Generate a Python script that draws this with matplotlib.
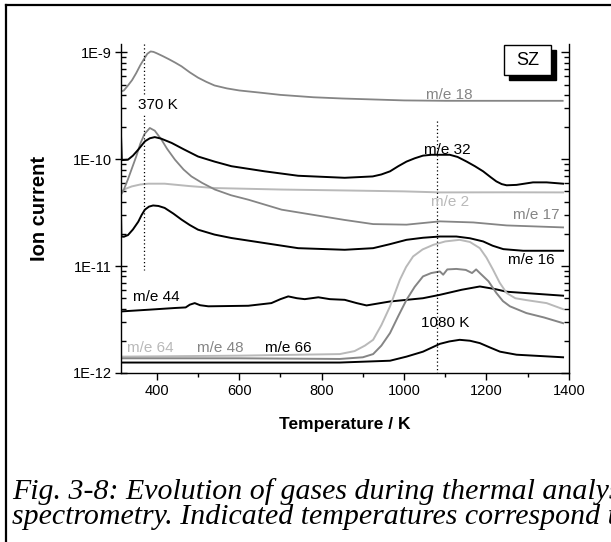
import matplotlib
matplotlib.use("Agg")
import matplotlib.pyplot as plt
import matplotlib.markers as mmarkers
from matplotlib.lines import Line2D
from matplotlib.patches import Rectangle

# ---- data (T in K, ion current in A) ----
t18 = [313, 320, 330, 340, 350, 360, 370, 377, 385, 392, 400, 415, 430, 445, 460, 480, 500, 520,
       540, 570, 600, 650, 700, 780, 850, 1000, 1100, 1385]
i18 = [4.3e-10, 4.4e-10, 4.9e-10, 5.5e-10, 6.4e-10, 7.6e-10, 8.8e-10, 9.7e-10, 1.02e-9, 1.01e-9,
       0.98e-9, 0.92e-9, 0.86e-9, 0.80e-9, 7.4e-10, 6.5e-10, 5.8e-10, 5.3e-10, 4.9e-10, 4.6e-10,
       4.4e-10, 4.2e-10, 4.0e-10, 3.8e-10, 3.7e-10, 3.55e-10, 3.52e-10, 3.52e-10]

t32 = [313, 315, 330, 342, 355, 371, 383, 395, 410, 436, 465, 500, 540, 581, 662, 743, 856, 924,
       945, 966, 986, 1006, 1026, 1046, 1066, 1087, 1111, 1130, 1152, 1172, 1192, 1210, 1224, 1237,
       1249, 1273, 1313, 1346, 1386]
i32 = [1.7e-10, 9.8e-11, 9.9e-11, 1.08e-10, 1.23e-10, 1.47e-10, 1.57e-10, 1.61e-10, 1.56e-10,
       1.42e-10, 1.24e-10, 1.06e-10, 9.5e-11, 8.6e-11, 7.7e-11, 7.0e-11, 6.7e-11, 6.9e-11, 7.2e-11,
       7.7e-11, 8.6e-11, 9.5e-11, 1.02e-10, 1.08e-10, 1.10e-10, 1.10e-10, 1.10e-10, 1.05e-10,
       9.5e-11, 8.6e-11, 7.7e-11, 6.8e-11, 6.2e-11, 5.85e-11, 5.7e-11, 5.75e-11, 6.07e-11,
       6.07e-11, 5.9e-11]

t17 = [313, 320, 330, 340, 350, 360, 370, 383, 395, 411, 425, 444, 465, 484, 510, 541, 580, 622,
       703, 783, 856, 925, 1006, 1087, 1168, 1249, 1386]
i17 = [4.65e-11, 5.2e-11, 6.5e-11, 8.3e-11, 1.06e-10, 1.40e-10, 1.72e-10, 1.96e-10, 1.85e-10,
       1.53e-10, 1.25e-10, 9.9e-11, 8.0e-11, 6.9e-11, 6.0e-11, 5.2e-11, 4.6e-11, 4.18e-11, 3.37e-11,
       3.0e-11, 2.7e-11, 2.47e-11, 2.44e-11, 2.62e-11, 2.56e-11, 2.4e-11, 2.3e-11]

t2 = [313, 325, 339, 360, 379, 419, 480, 541, 703, 856, 1000, 1087, 1250, 1386]
i2 = [5.0e-11, 5.3e-11, 5.56e-11, 5.8e-11, 5.9e-11, 5.9e-11, 5.6e-11, 5.37e-11, 5.2e-11, 5.1e-11,
      5.0e-11, 4.89e-11, 4.9e-11, 4.89e-11]

t16 = [313, 314, 320, 330, 342, 355, 363, 371, 381, 391, 404, 419, 440, 460, 480, 500, 540, 581,
       662, 743, 856, 925, 965, 1006, 1046, 1087, 1127, 1160, 1192, 1215, 1241, 1289, 1386]
i16 = [3.1e-11, 1.89e-11, 1.88e-11, 1.95e-11, 2.2e-11, 2.6e-11, 3.0e-11, 3.37e-11, 3.6e-11,
       3.69e-11, 3.65e-11, 3.5e-11, 3.1e-11, 2.72e-11, 2.42e-11, 2.19e-11, 1.97e-11, 1.83e-11,
       1.64e-11, 1.47e-11, 1.42e-11, 1.47e-11, 1.6e-11, 1.76e-11, 1.84e-11, 1.89e-11, 1.89e-11,
       1.82e-11, 1.7e-11, 1.55e-11, 1.44e-11, 1.39e-11, 1.39e-11]

t44 = [313, 379, 444, 470, 480, 492, 505, 525, 622, 678, 700, 719, 740, 759, 792, 820, 856, 885,
       909, 966, 1046, 1087, 1140, 1184, 1220, 1249, 1386]
i44 = [3.76e-12, 3.9e-12, 4.05e-12, 4.1e-12, 4.35e-12, 4.5e-12, 4.3e-12, 4.2e-12, 4.25e-12,
       4.5e-12, 4.9e-12, 5.2e-12, 5.0e-12, 4.9e-12, 5.1e-12, 4.9e-12, 4.83e-12, 4.5e-12, 4.28e-12,
       4.66e-12, 5.0e-12, 5.38e-12, 6.0e-12, 6.44e-12, 6.1e-12, 5.75e-12, 5.28e-12]

t64 = [313, 600, 844, 880, 905, 925, 945, 966, 978, 990, 1005, 1022, 1045, 1071, 1100, 1135, 1160,
       1184, 1200, 1216, 1232, 1249, 1270, 1297, 1346, 1386]
i64 = [1.42e-12, 1.45e-12, 1.5e-12, 1.6e-12, 1.8e-12, 2.04e-12, 2.8e-12, 4.19e-12, 5.6e-12,
       7.45e-12, 9.8e-12, 1.23e-11, 1.43e-11, 1.58e-11, 1.7e-11, 1.76e-11, 1.68e-11, 1.47e-11,
       1.2e-11, 9.25e-12, 7.0e-12, 5.59e-12, 5.0e-12, 4.8e-12, 4.5e-12, 3.95e-12]

t48 = [313, 600, 844, 900, 925, 945, 966, 986, 1006, 1026, 1046, 1066, 1087, 1095, 1105, 1127,
       1150, 1165, 1175, 1184, 1205, 1224, 1240, 1257, 1297, 1340, 1386]
i48 = [1.37e-12, 1.37e-12, 1.35e-12, 1.4e-12, 1.5e-12, 1.8e-12, 2.36e-12, 3.4e-12, 4.83e-12,
       6.4e-12, 8.0e-12, 8.6e-12, 8.9e-12, 8.3e-12, 9.3e-12, 9.4e-12, 9.2e-12, 8.6e-12, 9.3e-12,
       8.6e-12, 7.2e-12, 5.6e-12, 4.7e-12, 4.2e-12, 3.63e-12, 3.3e-12, 2.92e-12]

t66 = [313, 600, 844, 966, 1006, 1046, 1087, 1110, 1135, 1160, 1184, 1210, 1233, 1273, 1386]
i66 = [1.25e-12, 1.25e-12, 1.25e-12, 1.3e-12, 1.42e-12, 1.58e-12, 1.87e-12, 1.97e-12, 2.04e-12,
       2.0e-12, 1.9e-12, 1.72e-12, 1.58e-12, 1.48e-12, 1.4e-12]

# peak temperatures marked by dotted lines
peak_t = [370, 1080]

GRAY = "#858585"
LIGHT = "#b9b9b9"

plt.rcParams["font.family"] = ["Liberation Sans", "DejaVu Sans"]

fig = plt.figure(figsize=(6.11, 5.42), dpi=100)
ax = fig.add_axes([0.198, 0.312, 0.733, 0.607])

ax.plot(t18, i18, color=GRAY, lw=1.3)
ax.plot(t2, i2, color=LIGHT, lw=1.4)
ax.plot(t17, i17, color=GRAY, lw=1.3)
ax.plot(t32, i32, color="black", lw=1.4)
ax.plot(t16, i16, color="black", lw=1.4)
ax.plot(t44, i44, color="black", lw=1.4)
ax.plot(t64, i64, color=LIGHT, lw=1.4)
ax.plot(t48, i48, color=GRAY, lw=1.4)
ax.plot(t66, i66, color="black", lw=1.4)

ax.plot([peak_t[0], peak_t[0]], [1.2e-9, 9.2e-12], color="black", lw=0.9, ls=(0, (1, 2)))
ax.plot([peak_t[1], peak_t[1]], [2.26e-10, 1e-12], color="black", lw=0.9, ls=(0, (1, 2)))

ax.set_yscale("log")
ax.set_xlim(313, 1400)
ax.set_ylim(1e-12, 1.2e-9)
ax.set_xticks([400, 600, 800, 1000, 1200, 1400])
ax.set_xticks(range(500, 1400, 200), minor=True)
ax.set_yticks([1e-12, 1e-11, 1e-10, 1e-9])
ax.set_yticklabels(["1E-12", "1E-11", "1E-10", "1E-9"])

ax.spines["top"].set_visible(False)
for s in ["left", "right", "bottom"]:
    ax.spines[s].set_linewidth(1.0)
ax.tick_params(axis="x", which="major", direction="out", length=5, width=1, labelsize=10.5, pad=3)
ax.tick_params(axis="x", which="minor", direction="out", length=3, width=1)
ax.tick_params(axis="y", which="major", direction="inout", length=9, width=1, labelsize=10.5,
               right=True, pad=2)
ax.tick_params(axis="y", which="minor", direction="in", length=3.5, width=1, right=True)
# right side ticks point inwards
for t in ax.yaxis.get_major_ticks():
    t.tick2line.set_marker(mmarkers.TICKLEFT)
    t.tick2line.set_markersize(6)

ax.set_xlabel("Temperature / K", fontsize=12.5, fontweight="bold", labelpad=14)
fig.text(0.064, 0.6155, "Ion current", rotation=90, fontsize=14.5, fontweight="bold",
         ha="center", va="center")

# curve labels
txt = dict(fontsize=11, ha="center", va="center")
ax.text(1111, 4.0e-10, "m/e 18", color=GRAY, **txt)
ax.text(1106, 1.23e-10, "m/e 32", color="black", **txt)
ax.text(1111, 3.98e-11, "m/e 2", color=LIGHT, **txt)
ax.text(1322, 3.02e-11, "m/e 17", color=GRAY, **txt)
ax.text(1309, 1.13e-11, "m/e 16", color="black", **txt)
ax.text(399, 5.08e-12, "m/e 44", color="black", **txt)
ax.text(383, 1.71e-12, "m/e 64", color=LIGHT, **txt)
ax.text(553, 1.71e-12, "m/e 48", color=GRAY, **txt)
ax.text(720, 1.71e-12, "m/e 66", color="black", **txt)
ax.text(402, 3.2e-10, "370 K", color="black",
        bbox=dict(facecolor="white", edgecolor="none", pad=1), **txt)
ax.text(1101, 2.92e-12, "1080 K", color="black", **txt)

# SZ box with drop shadow
ax.add_patch(Rectangle((0.866, 0.891), 0.105, 0.091, transform=ax.transAxes,
                       facecolor="black", edgecolor="black", clip_on=False, zorder=5))
ax.add_patch(Rectangle((0.855, 0.906), 0.105, 0.091, transform=ax.transAxes,
                       facecolor="white", edgecolor="black", lw=1, clip_on=False, zorder=6))
ax.text(0.9075, 0.951, "SZ", transform=ax.transAxes, fontsize=13, ha="center", va="center", zorder=7)

# outer frame of the figure page
fig.add_artist(Line2D([6 / 611, 6 / 611], [0, 1 - 5 / 542], color="black", lw=1.6,
                      transform=fig.transFigure))
fig.add_artist(Line2D([6 / 611, 1], [1 - 5 / 542, 1 - 5 / 542], color="black", lw=1.6,
                      transform=fig.transFigure))

# caption (runs past the right edge, as in the scanned page)
cap = dict(fontsize=21.5, style="italic", family=["Liberation Serif", "DejaVu Serif"],
           ha="left", va="baseline")
fig.text(12 / 611, 1 - 499 / 542, "Fig. 3-8: Evolution of gases during thermal analysis", **cap)
fig.text(12 / 611, 1 - 524 / 542, "spectrometry. Indicated temperatures correspond to", **cap)

fig.savefig("out.png", dpi=100)
